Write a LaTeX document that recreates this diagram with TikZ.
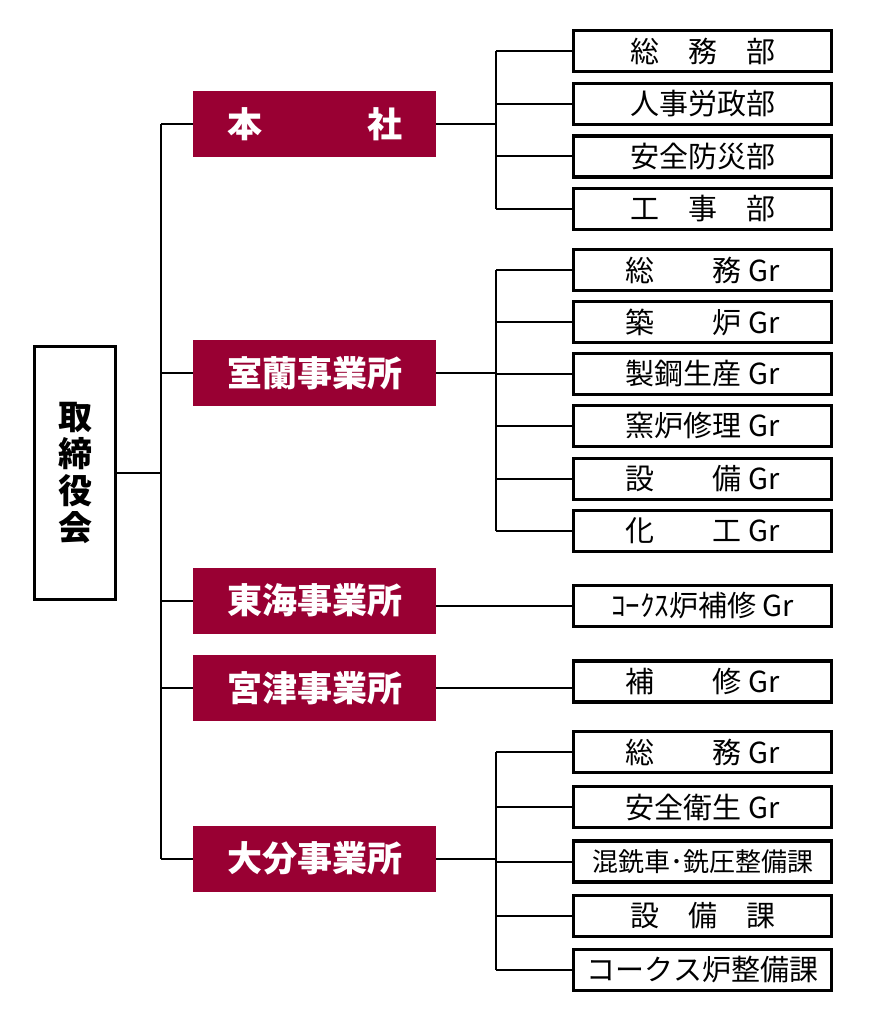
\documentclass[tikz,border=0pt]{standalone}
\usepackage{fontspec}
\newfontfamily\jp{Noto Sans CJK JP}
\definecolor{maroon}{RGB}{153,0,51}
\begin{document}
\begin{tikzpicture}[x=1pt,y=-1pt,
  conn/.style={line width=2pt,black},
  childbox/.style={draw=black,line width=3.3pt,fill=white,minimum width=258pt,minimum height=41pt,inner sep=0pt,font=\jp\fontsize{29}{32}\selectfont},
  redbox/.style={fill=maroon,draw=none,minimum width=243pt,minimum height=66pt,inner sep=0pt,text=white,font=\jp\bfseries\fontsize{35}{38}\selectfont},
  boardbox/.style={draw=black,line width=3.3pt,fill=white,minimum width=81pt,minimum height=253pt,inner sep=0pt,align=center,font=\jp\bfseries\fontsize{34}{37}\selectfont}]
\useasboundingbox (0,0) rectangle (870,1024);
% board
\node[boardbox] (board) at (75,473) {取\\締\\役\\会};
% red boxes
\node[redbox] (hq) at (314.5,124) {本　　　社};
\node[redbox] (mur) at (314.5,373) {室蘭事業所};
\node[redbox] (tok) at (314.5,600.5) {東海事業所};
\node[redbox] (miy) at (314.5,688) {宮津事業所};
\node[redbox] (oit) at (314.5,858.5) {大分事業所};
% trunk
\coordinate (tx) at (161,0);
\draw[conn] (hq.west -| tx) -- (oit.west -| tx);
\draw[conn] (board.east) -- (board.east -| tx);
\foreach \n in {hq,mur,tok,miy,oit} {\draw[conn] (\n.west) -- (\n.west -| tx);}
% group 1
\node[childbox] (a1) at (702.5,51) {総　務　部};
\node[childbox] (a2) at (702.5,104) {人事労政部};
\node[childbox] (a3) at (702.5,156.5) {安全防災部};
\node[childbox] (a4) at (702.5,209) {工　事　部};
% group 2
\node[childbox] (b1) at (702.5,270) {総　　務 Gr};
\node[childbox] (b2) at (702.5,322) {築　　炉 Gr};
\node[childbox] (b3) at (702.5,374) {製鋼生産 Gr};
\node[childbox] (b4) at (702.5,426) {窯炉修理 Gr};
\node[childbox] (b5) at (702.5,479) {設　　備 Gr};
\node[childbox] (b6) at (702.5,531) {化　　工 Gr};
% group 3, 4
\node[childbox] (c1) at (702.5,606) {ｺｰｸｽ炉補修 Gr};
\node[childbox] (d1) at (702.5,681.5) {補　　修 Gr};
% group 5
\node[childbox] (e1) at (702.5,752) {総　　務 Gr};
\node[childbox] (e2) at (702.5,807) {安全衛生 Gr};
\node[childbox,font=\jp\fontsize{26}{28}\selectfont] (e3) at (702.5,861.5) {混銑車･銑圧整備課};
\node[childbox] (e4) at (702.5,916) {設　備　課};
\node[childbox] (e5) at (702.5,970) {コークス炉整備課};
% branches
\coordinate (bx) at (496,0);
\draw[conn] (hq.east) -- (hq.east -| bx);
\draw[conn] (a1.west -| bx) -- (a4.west -| bx);
\foreach \n in {a1,a2,a3,a4} {\draw[conn] (\n.west) -- (\n.west -| bx);}
\draw[conn] (mur.east) -- (mur.east -| bx);
\draw[conn] (b1.west -| bx) -- (b6.west -| bx);
\foreach \n in {b1,b2,b3,b4,b5,b6} {\draw[conn] (\n.west) -- (\n.west -| bx);}
\draw[conn] (tok.east |- c1.west) -- (c1.west);
\draw[conn] (miy.east) -- (miy.east -| d1.west);
\draw[conn] (oit.east) -- (oit.east -| bx);
\draw[conn] (e1.west -| bx) -- (e5.west -| bx);
\foreach \n in {e1,e2,e3,e4,e5} {\draw[conn] (\n.west) -- (\n.west -| bx);}
\end{tikzpicture}
\end{document}
